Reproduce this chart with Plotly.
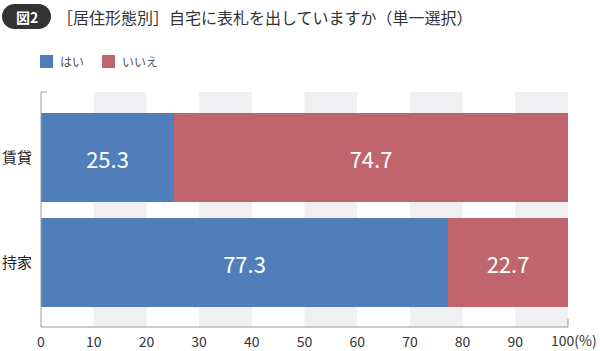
import plotly.graph_objects as go

categories = ["賃貸", "持家"]
yes_values = [25.3, 77.3]
no_values = [74.7, 22.7]
series_names = ["はい", "いいえ"]
tick_values = [0, 10, 20, 30, 40, 50, 60, 70, 80, 90, 100]
tick_labels = ["0", "10", "20", "30", "40", "50", "60", "70", "80", "90", ""]
last_tick_label = "100(%)"
title_text = "［居住形態別］自宅に表札を出していますか（単一選択）"
badge_text = "図2"

BLUE = "#4f7ebb"
RED = "#c0656e"
FONT = "Noto Sans CJK JP"

W, H = 600, 351
L, R, T, B = 41, 568, 92, 327

def px(x):
    return (x - L) / (R - L)

def py(y):
    return (B - y) / (B - T)

fig = go.Figure()
fig.add_trace(go.Bar(
    y=categories, x=yes_values, name=series_names[0], orientation="h",
    marker=dict(color=BLUE, line=dict(width=0)), width=0.85,
    texttemplate="%{x:.1f}", textposition="inside", insidetextanchor="middle",
    textfont=dict(color="white", size=22, family=FONT), showlegend=False,
    constraintext="none",
))
fig.add_trace(go.Bar(
    y=categories, x=no_values, name=series_names[1], orientation="h",
    marker=dict(color=RED, line=dict(width=0)), width=0.85,
    texttemplate="%{x:.1f}", textposition="inside", insidetextanchor="middle",
    textfont=dict(color="white", size=22, family=FONT), showlegend=False,
    constraintext="none",
))

shapes = []
# alternating bands
for i in range(1, 10, 2):
    shapes.append(dict(type="rect", xref="x", yref="paper", x0=tick_values[i], x1=tick_values[i + 1],
                       y0=0, y1=1, fillcolor="#f0f0f2", line=dict(width=0), layer="below"))
# axis lines
ax_col = "#9a9a9a"
shapes.append(dict(type="line", xref="paper", yref="paper", x0=0, x1=0, y0=0, y1=1, line=dict(color=ax_col, width=1)))
shapes.append(dict(type="line", xref="paper", yref="paper", x0=0, x1=px(47), y0=1, y1=1, line=dict(color=ax_col, width=1)))
shapes.append(dict(type="line", xref="paper", yref="paper", x0=0, x1=1, y0=0, y1=0, line=dict(color=ax_col, width=1)))
shapes.append(dict(type="line", xref="paper", yref="paper", x0=1, x1=1, y0=0, y1=py(319), line=dict(color=ax_col, width=1)))

# badge pill
l, r, t, b = 2, 51, 4, 29
rad = (b - t) / 2
k = 0.5523 * rad
pts = [
    ("M", [(l + rad, t)]),
    ("L", [(r - rad, t)]),
    ("C", [(r - rad + k, t), (r, t + rad - k), (r, t + rad)]),
    ("C", [(r, t + rad + k), (r - rad + k, b), (r - rad, b)]),
    ("L", [(l + rad, b)]),
    ("C", [(l + rad - k, b), (l, t + rad + k), (l, t + rad)]),
    ("C", [(l, t + rad - k), (l + rad - k, t), (l + rad, t)]),
]
path = ""
for cmd, ps in pts:
    path += cmd + " " + " ".join(f"{px(x):.5f},{py(y):.5f}" for x, y in ps) + " "
path += "Z"
shapes.append(dict(type="path", xref="paper", yref="paper", path=path, fillcolor="#333333", line=dict(width=0)))

# legend squares
shapes.append(dict(type="rect", xref="paper", yref="paper", x0=px(40), x1=px(53), y0=py(68), y1=py(55),
                   fillcolor=BLUE, line=dict(width=0)))
shapes.append(dict(type="rect", xref="paper", yref="paper", x0=px(102), x1=px(115), y0=py(68), y1=py(55),
                   fillcolor=RED, line=dict(width=0)))

annotations = [
    dict(text=f"<b>{badge_text}</b>", xref="paper", yref="paper", x=px(27), y=py(16.5), showarrow=False,
         xanchor="center", yanchor="middle", font=dict(color="white", size=14, family=FONT)),
    dict(text=title_text, xref="paper", yref="paper", x=px(55), y=py(17), showarrow=False,
         xanchor="left", yanchor="middle", font=dict(color="#333333", size=16, family=FONT)),
    dict(text=series_names[0], xref="paper", yref="paper", x=px(58), y=py(61.5), showarrow=False,
         xanchor="left", yanchor="middle", font=dict(color="#555555", size=12, family=FONT)),
    dict(text=series_names[1], xref="paper", yref="paper", x=px(120), y=py(61.5), showarrow=False,
         xanchor="left", yanchor="middle", font=dict(color="#555555", size=12, family=FONT)),
    dict(text=last_tick_label, xref="paper", yref="paper", x=px(599), y=py(340), showarrow=False,
         xanchor="right", yanchor="middle", font=dict(color="#333333", size=14, family=FONT)),
]

fig.update_layout(
    width=W, height=H,
    margin=dict(l=L, r=W - R, t=T, b=H - B, pad=0, autoexpand=False),
    paper_bgcolor="white", plot_bgcolor="white",
    barmode="stack", bargap=0,
    shapes=shapes, annotations=annotations,
    font=dict(family=FONT, color="#333333"),
    xaxis=dict(range=[0, 100], tickvals=tick_values, ticktext=tick_labels, showgrid=False, zeroline=False,
               showline=False, ticks="", automargin=False, ticklabelstandoff=5,
               tickfont=dict(size=14, color="#333333", family=FONT), fixedrange=True),
    yaxis=dict(type="category", categoryarray=categories, range=[1.615, -0.623], showgrid=False, zeroline=False,
               showline=False, ticks="", ticklabelstandoff=8, automargin=False,
               tickfont=dict(size=15, color="#222222", family=FONT), fixedrange=True),
)

fig.write_html("out.html")
